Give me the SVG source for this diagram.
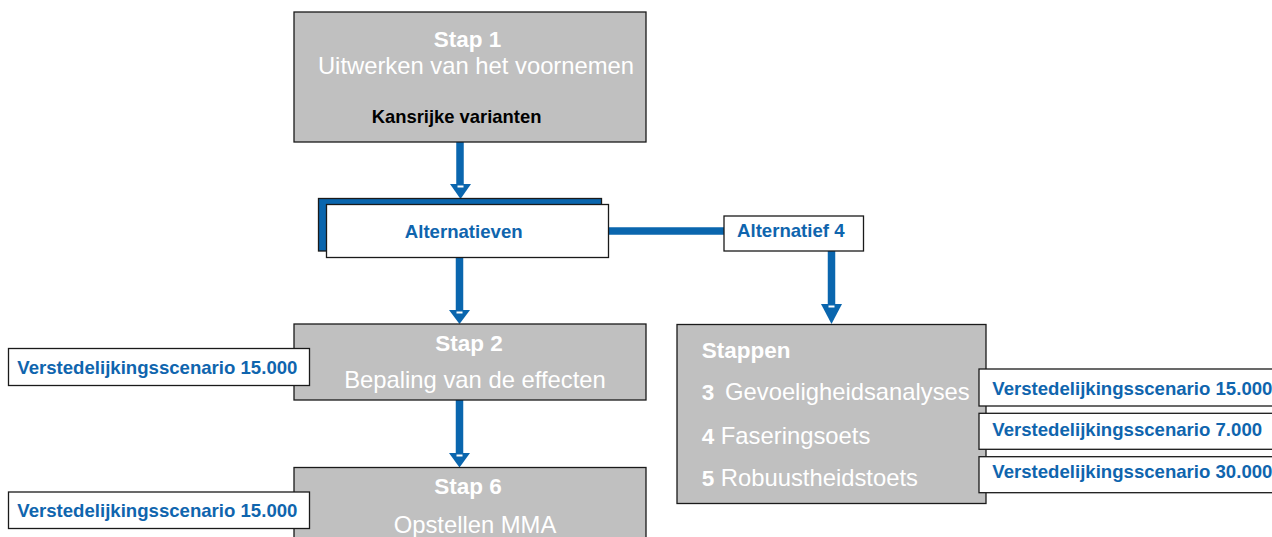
<svg xmlns="http://www.w3.org/2000/svg" width="1272" height="537" viewBox="0 0 1272 537">
<style>
.grey{fill:#c0c0c0;stroke:#1a1a1a;stroke-width:1.3}
.wbox{fill:#ffffff;stroke:#1a1a1a;stroke-width:1.3}
.shadow{fill:#0a66ae;stroke:#1a1a1a;stroke-width:1.3}
.shaft{stroke:#0a66ae;stroke-width:7.5;fill:none}
.head{fill:#0a66ae}
.dash{fill:#ffffff}
text{font-family:"Liberation Sans",Arial,sans-serif}
.tb{font-weight:bold;font-size:22.5px;fill:#ffffff}
.tr{font-size:23.8px;fill:#ffffff}
.lbl{font-weight:bold;font-size:18.6px;fill:#0f65ae}
.blk{font-weight:bold;font-size:18.4px;fill:#000000}
</style>
<rect width="1272" height="537" fill="#ffffff"/>
<g id="connectors">
<line class="shaft" x1="460" y1="142" x2="460" y2="185"/>
<polygon class="head" points="450,184 471,184 460.5,199"/>
<rect class="dash" x="457.5" y="185.5" width="6" height="2"/>
<line class="shaft" x1="459.5" y1="257" x2="459.5" y2="311"/>
<polygon class="head" points="449,310 470,310 459.5,324"/>
<rect class="dash" x="456.5" y="311.5" width="6" height="2"/>
<line class="shaft" x1="608" y1="231" x2="724" y2="231"/>
<line class="shaft" x1="831.5" y1="251" x2="831.5" y2="305"/>
<polygon class="head" points="821,304 842,304 831.5,324"/>
<rect class="dash" x="828.5" y="305.5" width="6" height="2"/>
<line class="shaft" x1="459.5" y1="400" x2="459.5" y2="454"/>
<polygon class="head" points="449,453 470,453 459.5,467.5"/>
<rect class="dash" x="456.5" y="454.5" width="6" height="2"/>
</g>
<g id="stap1">
<rect class="grey" x="294" y="12" width="352" height="130"/>
<text class="tb" x="467.5" y="47" text-anchor="middle">Stap 1</text>
<text class="tr" x="476" y="74" text-anchor="middle">Uitwerken van het voornemen</text>
<text class="blk" x="371.7" y="122.7">Kansrijke varianten</text>
</g>
<g id="alternatieven">
<rect class="shadow" x="318.5" y="198.5" width="283" height="52.5"/>
<rect class="wbox" x="326.5" y="204.5" width="282" height="53"/>
<text class="lbl" x="463.7" y="237.7" text-anchor="middle">Alternatieven</text>
</g>
<g id="alternatief4">
<rect class="wbox" x="724" y="216" width="139.5" height="35"/>
<text class="lbl" x="790.8" y="237.3" text-anchor="middle">Alternatief 4</text>
</g>
<g id="stap2">
<rect class="grey" x="294" y="324" width="352" height="76"/>
<text class="tb" x="469" y="351" text-anchor="middle">Stap 2</text>
<text class="tr" x="475" y="388" text-anchor="middle">Bepaling van de effecten</text>
</g>
<g id="scenario-stap2">
<rect class="wbox" x="8.5" y="348.5" width="301" height="37"/>
<text class="lbl" x="17.3" y="374.3">Verstedelijkingsscenario 15.000</text>
</g>
<g id="stap6">
<rect class="grey" x="294" y="467.5" width="352" height="90"/>
<text class="tb" x="468" y="494" text-anchor="middle">Stap 6</text>
<text class="tr" x="475" y="532.5" text-anchor="middle">Opstellen MMA</text>
</g>
<g id="scenario-stap6">
<rect class="wbox" x="8.5" y="492" width="301" height="36.5"/>
<text class="lbl" x="17.3" y="517.3">Verstedelijkingsscenario 15.000</text>
</g>
<g id="stappen">
<rect class="grey" x="677" y="324.5" width="309" height="179"/>
<text class="tb" x="701.7" y="358.3">Stappen</text>
<text x="701.7" y="400"><tspan class="tb">3</tspan></text>
<text class="tr" x="725" y="400">Gevoeligheidsanalyses</text>
<text x="701.7" y="444.3"><tspan class="tb">4</tspan><tspan class="tr"> Faseringsoets</tspan></text>
<text x="701.7" y="485.7"><tspan class="tb">5</tspan><tspan class="tr"> Robuustheidstoets</tspan></text>
</g>
<g id="scenario-3">
<rect class="wbox" x="979" y="369" width="310" height="37"/>
<text class="lbl" x="992.3" y="395">Verstedelijkingsscenario 15.000</text>
</g>
<g id="scenario-4">
<rect class="wbox" x="979" y="413.3" width="310" height="36"/>
<text class="lbl" x="992.3" y="435.5">Verstedelijkingsscenario 7.000</text>
</g>
<g id="scenario-5">
<rect class="wbox" x="979" y="456.7" width="310" height="36"/>
<text class="lbl" x="992.3" y="478">Verstedelijkingsscenario 30.000</text>
</g>
</svg>
